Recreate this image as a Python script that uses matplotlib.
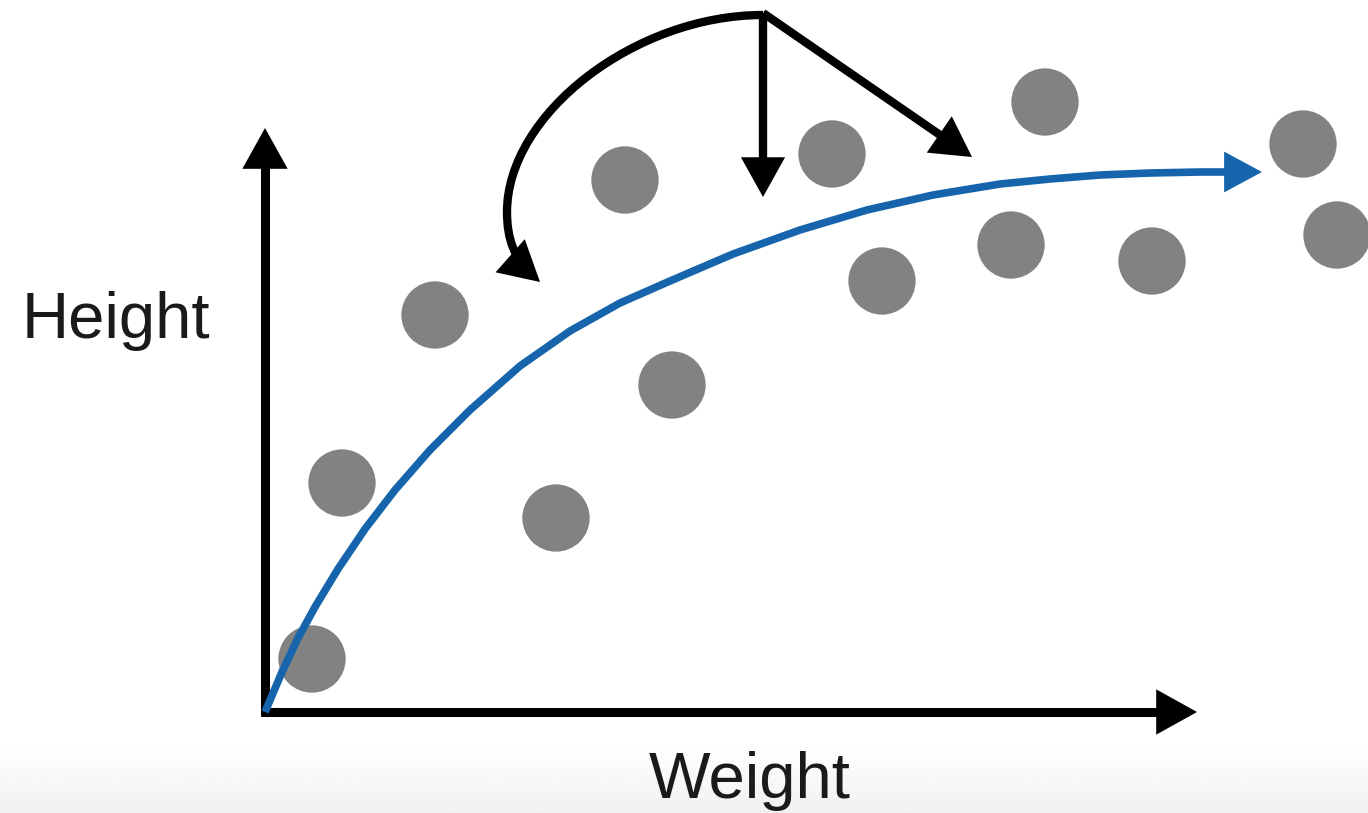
import numpy as np
import matplotlib
matplotlib.use("Agg")
import matplotlib.pyplot as plt
from matplotlib.patches import FancyArrowPatch
from matplotlib.path import Path

# scattered observations (weight, height)
weight = [0.47, 0.77, 1.70, 2.91, 3.60, 4.07, 5.67, 6.17, 7.80, 7.46, 8.87, 10.38, 10.72]
height = [0.53, 2.29, 3.97, 1.94, 5.32, 3.27, 5.58, 4.31, 6.10, 4.67, 4.51, 5.68, 4.77]

# fitted curve
fit_x = [0, 0.17, 0.33, 0.50, 0.73, 1.00, 1.30, 1.65, 2.05, 2.55, 3.05, 3.55,
         4.05, 4.68, 5.35, 6.02, 6.68, 7.35, 7.85, 8.35, 8.85, 9.35, 9.97]
fit_y = [0, 0.40, 0.74, 1.05, 1.43, 1.83, 2.22, 2.62, 3.02, 3.46, 3.81, 4.09,
         4.31, 4.58, 4.82, 5.02, 5.17, 5.28, 5.33, 5.37, 5.39, 5.40, 5.40]

# curved annotation arrow (two cubic bezier pieces: start, ctrl, ctrl, end, ctrl, ctrl, end)
arc_x = [4.98, 3.70, 2.42, 2.42, 2.42, 2.50, 2.75]
arc_y = [6.97, 6.97, 5.98, 5.00, 4.72, 4.52, 4.30]

x_label = "Weight"
y_label = "Height"

fig = plt.figure(figsize=(13.68, 8.13), dpi=100)
ax = fig.add_axes([0, 0, 1, 1])
ax.set_xlim(-2.65, 11.03)
ax.set_ylim(-1.01, 7.12)
ax.axis("off")

# faint grey band along the bottom
grad = np.linspace(1.0, 0.945, 50).reshape(-1, 1)
ax.imshow(grad, cmap="gray", vmin=0, vmax=1, extent=(-2.65, 11.03, -1.01, -0.30),
          aspect="auto", origin="upper", zorder=0)


def arrow(path, color, lw, hl=0.27, hw=0.15, z=3):
    p = FancyArrowPatch(path=path,
                        arrowstyle="-|>,head_length=%s,head_width=%s" % (hl, hw),
                        mutation_scale=72, color=color, lw=lw, zorder=z,
                        shrinkA=0, shrinkB=0, joinstyle="miter", capstyle="butt")
    ax.add_patch(p)


def line_path(xs, ys):
    return Path(np.column_stack([xs, ys]))


# axes
arrow(line_path([0, 0], [-0.04, 5.84]), "black", 6.5)
arrow(line_path([-0.04, 9.32], [0, 0]), "black", 6.5)

ax.scatter(weight, height, s=2350, color="#828282", edgecolors="none", zorder=2)

arrow(line_path(fit_x, fit_y), "#1665ac", 5.5, hl=0.26, hw=0.14, z=4)

# annotation arrows
arrow(line_path([4.98, 4.98], [6.99, 5.15]), "black", 6.0)
arrow(line_path([4.98, 7.07], [6.99, 5.55]), "black", 6.0)
arc_codes = [Path.MOVETO] + [Path.CURVE4] * 6
arrow(Path(np.column_stack([arc_x, arc_y]), arc_codes), "black", 6.0)

ax.text(-1.49, 3.74, y_label, fontsize=47, family="Liberation Sans", color="#1a1a1a",
        ha="center", va="baseline")
ax.text(4.85, -0.86, x_label, fontsize=47, family="Liberation Sans", color="#1a1a1a",
        ha="center", va="baseline")

fig.savefig("out.png", dpi=100)
